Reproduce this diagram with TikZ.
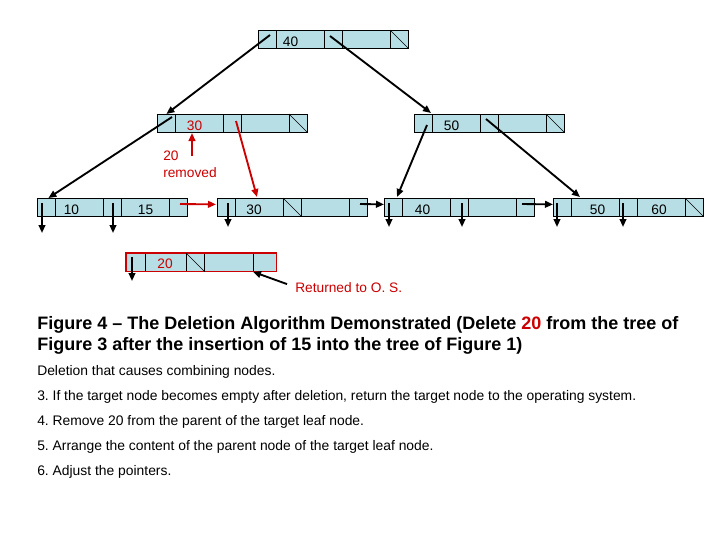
\documentclass[tikz,border=0pt]{standalone}
\usepackage{fontspec}
\setmainfont{Liberation Sans}
\usetikzlibrary{arrows.meta}
\frenchspacing
\definecolor{cellfill}{RGB}{183,222,228}
\definecolor{myred}{RGB}{204,0,0}
\newcommand\bcell[4]{\node[cell,minimum width={#4*0.75pt}] (#1) at (#2,#3) {};}
\newcommand\stdnode[3]{%
  \bcell{#1a}{#2}{#3}{18}
  \bcell{#1b}{#2+18}{#3}{48}
  \bcell{#1c}{#2+66}{#3}{18}
  \bcell{#1d}{#2+84}{#3}{48}
  \bcell{#1e}{#2+132}{#3}{18}}
\begin{document}
\begin{tikzpicture}[x=0.75pt,y=-0.75pt,
  cell/.style={draw=black,fill=cellfill,line width=0.6pt,inner sep=0pt,
    anchor=north west,minimum height=13.5pt},
  slash/.style={line width=0.5pt},
  key/.style={inner sep=0pt,font=\fontsize{10.3}{12}\selectfont},
  conn/.style={line width=1.4pt,-{Triangle[length=6pt,width=5pt]}},
  rconn/.style={conn,draw=myred,-{Triangle[length=6pt,width=5pt,fill=myred]}},
  body/.style={inner sep=0pt,anchor=base west,font=\fontsize{10.4}{12}\selectfont},
  captext/.style={inner sep=0pt,anchor=base west,font=\fontsize{13.5}{16}\selectfont\bfseries}]
\path[use as bounding box,fill=white] (0,0) rectangle (720,540);

% tree nodes
\stdnode{r}{258}{30}
\stdnode{p}{157}{114}
\stdnode{q}{414}{114}
\stdnode{A}{37}{198}
\stdnode{B}{217}{198}
\stdnode{C}{384}{198}
\stdnode{D}{553}{198}
% removed node
\bcell{Ma}{126}{253}{19}
\bcell{Mb}{145}{253}{41}
\bcell{Mc}{186}{253}{18}
\bcell{Md}{204}{253}{49}
\bcell{Me}{253}{253}{23}
\draw[myred,line width=0.8pt] (Ma.north west) rectangle (Me.south east);

% null pointer slashes
\foreach \c in {re,pe,qe,Bc,De,Mc}
  \draw[slash] (\c.north west) -- (\c.south east);

% keys
\node[key] (k40) at (290.5,41.5) {40};
\node[key,text=myred] (k30) at (194.5,125.5) {30};
\node[key] (k50) at (451.5,125.5) {50};
\node[key] (k10) at (71.5,209.5) {10};
\node[key] (k15) at (145.5,209.5) {15};
\node[key] (kB30) at (254,209.5) {30};
\node[key] (kC40) at (422.5,209.5) {40};
\node[key] (kD50) at (597.5,209.5) {50};
\node[key] (kD60) at (659,209.5) {60};
\node[key,text=myred] (kM20) at (165,263.5) {20};

% pointers between internal nodes
\draw[conn] ([shift={(12,5)}]ra.north west) -- (pa.north);
\draw[conn] ([shift={(6,6)}]rc.north west) -- ([shift={(-1,-1)}]qb.north west);
\draw[conn] ([shift={(15,3)}]pa.north west) -- ([shift={(2,0)}]Aa.north);
\draw[rconn] ([shift={(13,7)}]pc.north west) -- ([shift={(22,-1)}]Bb.north west);
\draw[conn] ([shift={(13,11)}]qa.north west) -- ([shift={(13,-1)}]Ca.north west);
\draw[conn] ([shift={(6,5)}]qc.north west) -- ([shift={(9,-1)}]Db.north west);

% leaf down pointers
\draw[conn] ([shift={(5,5)}]Aa.north west) -- ([shift={(5,35)}]Aa.north west);
\draw[conn] ([shift={(10,5)}]Ac.north west) -- ([shift={(10,35)}]Ac.north west);
\draw[conn] ([shift={(11,5)}]Ba.north west) -- ([shift={(11,29)}]Ba.north west);
\draw[conn] ([shift={(5,5)}]Ca.north west) -- ([shift={(5,29)}]Ca.north west);
\draw[conn] ([shift={(12,5)}]Cc.north west) -- ([shift={(12,29)}]Cc.north west);
\draw[conn] ([shift={(4,5)}]Da.north west) -- ([shift={(4,29)}]Da.north west);
\draw[conn] ([shift={(4,5)}]Dc.north west) -- ([shift={(4,29)}]Dc.north west);
\draw[conn] ([shift={(6,4)}]Ma.north west) -- ([shift={(6,28)}]Ma.north west);

% leaf chain
\draw[rconn] ([shift={(11,6)}]Ae.north west) -- ([shift={(-1,-3)}]Ba.west);
\draw[conn] ([shift={(11,6)}]Be.north west) -- ([shift={(0,-3)}]Ca.west);
\draw[conn] ([shift={(6,6)}]Ce.north west) -- ([shift={(0,-3)}]Da.west);

% removed label
\node[key,anchor=base west,text=myred] (rm1) at (163,160) {20};
\node[key,anchor=base west,text=myred] (rm2) at (163,177) {removed};
\draw[rconn] ([shift={(17,42)}]pb.north west) -- ([shift={(17,19)}]pb.north west);

% returned label
\node[key,anchor=base west,text=myred] (ret) at (295,292) {Returned to O. S.};
\draw[conn] ([shift={(-8,-3)}]ret.west) -- (Me.south west);

% caption
\node[captext] (c1) at (37,329) {Figure 4 -- The Deletion Algorithm Demonstrated (Delete \textcolor{myred}{20} from the tree of};
\node[captext] (c2) at (37,350.5) {Figure 3 after the insertion of 15 into the tree of Figure 1)};

% body text
\node[body] (t1) at (37,375.5) {Deletion that causes combining nodes.};
\node[body] (t2) at (37,400) {3. If the target node becomes empty after deletion, return the target node to the operating system.};
\node[body] (t3) at (37,425) {4. Remove 20 from the parent of the target leaf node.};
\node[body] (t4) at (37,450) {5. Arrange the content of the parent node of the target leaf node.};
\node[body] (t5) at (37,475.5) {6. Adjust the pointers.};
\end{tikzpicture}
\end{document}
